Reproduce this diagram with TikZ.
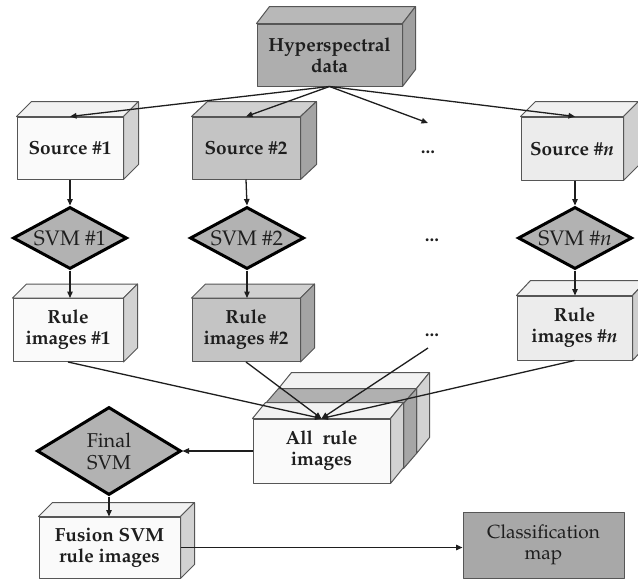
\documentclass[tikz,border=0pt]{standalone}
\usepackage[T1]{fontenc}
\usepackage{palatino}
\usetikzlibrary{shapes.geometric,arrows.meta}
\definecolor{ink}{HTML}{1E1E1E}
\definecolor{hyfront}{HTML}{AEAEAE}
\definecolor{hytop}{HTML}{B8B8B8}
\definecolor{hyright}{HTML}{A0A0A0}
\definecolor{wfront}{HTML}{FAFAFA}
\definecolor{wtop}{HTML}{F2F2F2}
\definecolor{wright}{HTML}{D2D2D2}
\definecolor{gfront}{HTML}{C4C4C4}
\definecolor{gtop}{HTML}{D0D0D0}
\definecolor{gright}{HTML}{A4A4A4}
\definecolor{lfront}{HTML}{ECECEC}
\definecolor{ltop}{HTML}{F0F0F0}
\definecolor{lright}{HTML}{CFCFCF}
\definecolor{dgray}{HTML}{B2B2B2}
\definecolor{midtop}{HTML}{B0B0B0}
\definecolor{midright}{HTML}{A6A6A6}
\definecolor{clsfill}{HTML}{A8A8A8}
\newcommand\depthfaces[5]{%
  \filldraw[face,fill=#4] (#1.north west) -- ([shift={(#2,-#3)}]#1.north west) -- ([shift={(#2,-#3)}]#1.north east) -- (#1.north east) -- cycle;
  \filldraw[face,fill=#5] (#1.north east) -- ([shift={(#2,-#3)}]#1.north east) -- ([shift={(#2,-#3)}]#1.south east) -- (#1.south east) -- cycle;
}
\begin{document}
\begin{tikzpicture}[x=1pt,y=-1pt,
  face/.style={draw=ink!75, line width=1pt, line join=round},
  cube/.style={face, rectangle, inner sep=0pt, align=center, text=ink,
    font=\fontsize{19}{21}\selectfont\bfseries},
  dia/.style={diamond, draw=black, line width=3pt, fill=dgray, inner sep=0pt},
  lab/.style={text=ink, align=center, inner sep=0pt, font=\fontsize{20}{22}\selectfont},
  dots/.style={text=ink, inner sep=0pt, font=\fontsize{19}{21}\selectfont\bfseries},
  conn/.style={draw=ink, line width=1.3pt, -{Triangle[length=6.5pt,width=5.5pt]}},
]
\fill[white] (0,0) rectangle (638,579);
\useasboundingbox (0,0) rectangle (638,579);

% top
\node[cube, fill=hyfront, minimum width=145pt, minimum height=62pt] (hy) at (329.5,55) {Hyperspectral\\data};
\depthfaces{hy}{13}{17}{hytop}{hyright}

% sources
\node[cube, fill=wfront, minimum width=106pt, minimum height=62pt] (s1) at (70,148) {Source \#1};
\depthfaces{s1}{15}{15}{wtop}{wright}
\node[cube, fill=gfront, minimum width=108pt, minimum height=62pt] (s2) at (246,148) {Source \#2};
\depthfaces{s2}{16}{15}{gtop}{gright}
\node[dots] (d1) at (428,152) {...};
\coordinate (d1in) at (428,123);
\node[cube, fill=lfront, minimum width=102pt, minimum height=63pt] (sn) at (572,148.5) {Source \#\textit{n}};
\depthfaces{sn}{15}{15}{ltop}{lright}

% SVMs
\node[dia, minimum width=114pt, minimum height=62pt] (v1) at (70,238) {};
\node[lab, font=\fontsize{21}{23}\selectfont] (v1t) at (v1) {SVM \#1};
\node[dia, minimum width=114pt, minimum height=62pt] (v2) at (247,238) {};
\node[lab, font=\fontsize{21}{23}\selectfont] (v2t) at (v2) {SVM \#2};
\node[dots] (d2) at (432,240) {...};
\node[dia, minimum width=114pt, minimum height=62pt] (vn) at (575,238) {};
\node[lab, font=\fontsize{21}{23}\selectfont] (vnt) at (vn) {SVM \#\textit{n}};

% rule images
\node[cube, fill=wfront, minimum width=110pt, minimum height=63pt] (r1) at (68,330) {Rule\\images \#1};
\depthfaces{r1}{14}{14}{wtop}{wright}
\node[cube, fill=gfront, minimum width=108pt, minimum height=63pt] (r2) at (246,330) {Rule\\images \#2};
\depthfaces{r2}{14}{14}{gtop}{gright}
\node[dots] (d3) at (432,335) {...};
\coordinate (d3out) at (428,348);
\node[cube, fill=lfront, minimum width=115pt, minimum height=64pt] (rn) at (574.5,328) {Rule\\images \#\textit{n}};
\depthfaces{rn}{14}{15}{ltop}{lright}

% all rule images stack
\node[cube, fill=wtop, minimum width=137pt, minimum height=64pt] (all3) at (347.5,421) {};
\depthfaces{all3}{13}{16}{wtop}{wright}
\node[cube, fill=midtop, minimum width=137pt, minimum height=64pt] (all2) at (334.5,436) {};
\depthfaces{all2}{13}{15}{midtop}{midright}
\node[cube, fill=wfront, minimum width=137pt, minimum height=64pt] (all) at (321.5,451) {All~ rule\\images};
\depthfaces{all}{13}{16}{wtop}{wright}

% final svm
\node[dia, minimum width=144pt, minimum height=88pt] (fs) at (109,451) {};
\node[lab] (fst) at (fs) {Final\\SVM};

% fusion and classification
\node[cube, fill=wfront, minimum width=141pt, minimum height=61pt] (fu) at (109.5,547.5) {Fusion SVM\\rule images};
\depthfaces{fu}{14}{14}{wtop}{wright}
\node[face, rectangle, fill=clsfill, inner sep=0pt, minimum width=161pt, minimum height=66pt,
  align=center, text=ink, font=\fontsize{19}{21}\selectfont] (cl) at (543.5,545) {Classification\\map};

% connectors
\draw[conn] (hy.south) -- (s1.north);
\draw[conn] (hy.south) -- (s2.north);
\draw[conn] (hy.south) -- (d1in);
\draw[conn] (hy.south) -- (vn.north |- sn.north);
\draw[conn] (s1.south) -- (v1.north);
\draw[conn] (s2.south) -- (v2.north);
\draw[conn] (vn.north |- sn.south) -- (vn.north);
\draw[conn] (v1.south) -- (r1.north -| v1.south);
\draw[conn] (v2.south) -- (r2.north -| v2.south);
\draw[conn] (vn.south) -- (rn.north -| vn.south);
\draw[conn] (r1.south) -- (all.north);
\draw[conn] (r2.south) -- (all.north);
\draw[conn] (d3out) -- (all.north);
\draw[conn] (rn.south) -- (all.north);
\draw[conn] (all.west) -- (fs.east);
\draw[conn] (fs.south) -- (fu.north -| fs.south);
\draw[conn] (fu.east) -- (fu.east -| cl.west);
\end{tikzpicture}
\end{document}
